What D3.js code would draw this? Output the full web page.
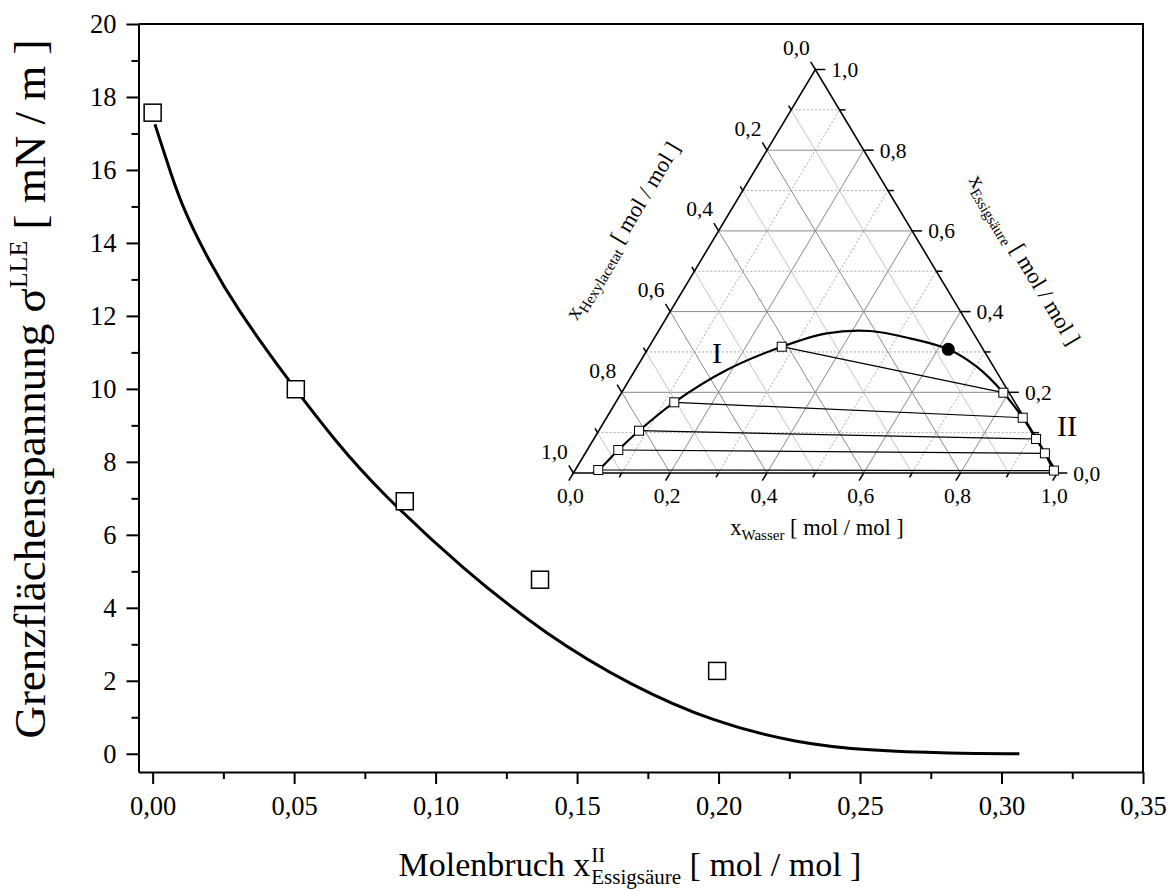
<!DOCTYPE html>
<html>
<head>
<meta charset="utf-8">
<script src="https://cdn.jsdelivr.net/npm/d3@7/dist/d3.min.js"></script>
<style>
    body { margin: 0; background: #fff; }
    svg text { font-family: "Liberation Serif", "Times New Roman", serif; fill: #000; }
</style>
</head>
<body>
<svg id="chart" width="1173" height="891"></svg>
<script>
// -----------------------------
// data
// -----------------------------

// measured interfacial tension vs. acetic acid fraction in phase II
const sigmaX = [0.0, 0.0506, 0.0891, 0.1369, 0.1995]
const sigmaY = [17.57, 9.99, 6.92, 4.77, 2.27]

// fitted curve
const fitX = [0.0008, 0.0040, 0.0097, 0.0203, 0.0297, 0.0474, 0.0651, 0.0804,
              0.1099, 0.1394, 0.1689, 0.1984, 0.2279, 0.2527, 0.2822, 0.3063]
const fitY = [17.25, 16.5, 15.09, 13.44, 12.21, 10.29, 8.51, 7.18,
              5.04, 3.24, 1.87, 0.86, 0.29, 0.085, 0.01, 0.0]

const xTicks = [0, 0.05, 0.10, 0.15, 0.20, 0.25, 0.30, 0.35]
const xMinor = [0.025, 0.075, 0.125, 0.175, 0.225, 0.275, 0.325]
const yTicks = [0, 2, 4, 6, 8, 10, 12, 14, 16, 18, 20]
const yMinor = [1, 3, 5, 7, 9, 11, 13, 15, 17, 19]

// ternary inset: compositions as [x_Wasser, x_Essigsäure]
const phaseI = [[0.0477, 0.0074], [0.0643, 0.057], [0.0832, 0.1048], [0.1209, 0.1752], [0.274, 0.313]]
const phaseII = [[0.990, 0.006], [0.950, 0.0488], [0.914, 0.0843], [0.860, 0.137], [0.789, 0.199]]
const binodal = [[0.040, 0.0], [0.0477, 0.0074], [0.0643, 0.057], [0.0832, 0.1048], [0.1209, 0.1752],
                 [0.1891, 0.2553], [0.274, 0.313], [0.3504, 0.3462], [0.437, 0.3519], [0.5287, 0.3338],
                 [0.6214, 0.3066], [0.7017, 0.2634], [0.789, 0.199], [0.860, 0.137], [0.914, 0.0843],
                 [0.950, 0.0488], [0.990, 0.006], [0.998, 0.0]]
const critPoint = [0.6214, 0.3066]
const ternTicks = [0, 0.1, 0.2, 0.3, 0.4, 0.5, 0.6, 0.7, 0.8, 0.9, 1.0]
const ternGrid = [0.1, 0.2, 0.3, 0.4, 0.5, 0.6, 0.7, 0.8, 0.9]
const ternLabels = [0, 0.2, 0.4, 0.6, 0.8, 1.0]

// -----------------------------
// helpers
// -----------------------------

const svg = d3.select('#chart')
const comma = (d, n) => d.toFixed(n).replace('.', ',')
const serif = '"Liberation Serif", "Times New Roman", serif'

// -----------------------------
// main plot
// -----------------------------

const frame = {left: 138.5, right: 1143, top: 24, bottom: 772}

const x = d3.scaleLinear()
    .domain([-0.005, 0.35])
    .range([frame.left, frame.right])

const y = d3.scaleLinear()
    .domain([-0.5, 20])
    .range([frame.bottom, frame.top])

function styleAxis(g, size) {
    g.attr('font-family', serif).attr('font-size', size)
    g.selectAll('path, line').attr('stroke', '#000').attr('stroke-width', 2)
}

svg.append('g')
    .attr('transform', 'translate(0,' + frame.bottom + ')')
    .call(d3.axisBottom(x).tickValues(xMinor).tickSize(7).tickFormat(''))
    .call(g => g.select('.domain').remove())
    .call(styleAxis, 26)

svg.append('g')
    .attr('transform', 'translate(' + frame.left + ',0)')
    .call(d3.axisLeft(y).tickValues(yMinor).tickSize(7).tickFormat(''))
    .call(g => g.select('.domain').remove())
    .call(styleAxis, 26)

svg.append('g')
    .attr('transform', 'translate(0,' + frame.bottom + ')')
    .call(d3.axisBottom(x).tickValues(xTicks).tickSize(12).tickSizeOuter(0)
        .tickPadding(12).tickFormat(d => comma(d, 2)))
    .call(styleAxis, 26.5)

svg.append('g')
    .attr('transform', 'translate(' + frame.left + ',0)')
    .call(d3.axisLeft(y).tickValues(yTicks).tickSize(12).tickSizeOuter(0)
        .tickPadding(10).tickFormat(d => d))
    .call(styleAxis, 26.5)

// top + right frame
svg.append('path')
    .attr('d', 'M' + frame.left + ',' + frame.top + 'H' + frame.right + 'V' + frame.bottom)
    .attr('fill', 'none')
    .attr('stroke', '#000')
    .attr('stroke-width', 2)

// fit curve
svg.append('path')
    .datum(fitX.map((d, i) => [d, fitY[i]]))
    .attr('d', d3.line().x(d => x(d[0])).y(d => y(d[1])).curve(d3.curveBasis))
    .attr('fill', 'none')
    .attr('stroke', '#000')
    .attr('stroke-width', 3)

// measured points
const sq = 17
svg.append('g')
    .selectAll('rect.point')
    .data(sigmaX.map((d, i) => [d, sigmaY[i]]))
    .enter()
    .append('rect')
    .attr('class', 'point')
    .attr('x', d => x(d[0]) - sq / 2)
    .attr('y', d => y(d[1]) - sq / 2)
    .attr('width', sq)
    .attr('height', sq)
    .attr('fill', '#fff')
    .attr('stroke', '#000')
    .attr('stroke-width', 1.5)

// y title
const yTitle = svg.append('text')
    .attr('transform', 'translate(45,389) rotate(-90)')
    .attr('text-anchor', 'middle')
    .attr('font-size', 45)
yTitle.append('tspan').text('Grenzflächenspannung σ')
yTitle.append('tspan').attr('font-size', 26).attr('dy', -18).text('LLE')
yTitle.append('tspan').attr('dy', 18).text(' [ mN / m ]')

// x title, with stacked super- and subscript
const xTitle = svg.append('g')
const xt1 = xTitle.append('text').attr('font-size', 34).attr('y', 876).text('Molenbruch x')
const w1 = xt1.node().getComputedTextLength()
xTitle.append('text').attr('font-size', 21).attr('x', w1 + 1).attr('y', 862).text('II')
const xt2 = xTitle.append('text').attr('font-size', 21).attr('x', w1 + 1).attr('y', 884).text('Essigsäure')
const w2 = xt2.node().getComputedTextLength()
const xt3 = xTitle.append('text').attr('font-size', 34).attr('x', w1 + 1 + w2).attr('y', 876)
    .text('\u00a0[ mol / mol ]')
const wTot = w1 + 1 + w2 + xt3.node().getComputedTextLength()
xTitle.attr('transform', 'translate(' + (630 - wTot / 2) + ',0)')

// -----------------------------
// ternary inset
// -----------------------------

const tw = d3.scaleLinear().domain([0, 1]).range([573.4, 1057.3])
const te = d3.scaleLinear().domain([0, 1]).range([473, 69.5])
const tp = (w, e) => [tw(w + e / 2), te(e)]

const inset = svg.append('g').attr('font-family', serif)

const edgeAngle = Math.atan2(te(0) - te(1), tw(0.5) - tw(0)) * 180 / Math.PI
const rad = edgeAngle * Math.PI / 180
const dirDown = [-Math.cos(rad), Math.sin(rad)]   // tick direction, bottom axis
const dirUp = [-Math.cos(rad), -Math.sin(rad)]    // tick direction, left axis

function seg(g, a, b) {
    return g.append('line')
        .attr('x1', a[0]).attr('y1', a[1])
        .attr('x2', b[0]).attr('y2', b[1])
}

// grid
const grid = inset.append('g')
ternGrid.forEach(v => {
    const major = Math.round(v * 10) % 2 === 0
    const solid = major ? '#8a8a8a' : '#c4c4c4'
    // constant Essigsäure (horizontal)
    const le = seg(grid, tp(0, v), tp(1 - v, v)).attr('stroke', major ? solid : '#a8a8a8')
    if (!major) le.attr('stroke-dasharray', '2,2')
    // constant Wasser
    const lw = seg(grid, tp(v, 0), tp(v, 1 - v)).attr('stroke', major ? solid : '#a8a8a8')
    if (!major) lw.attr('stroke-dasharray', '2,2')
    // constant Hexylacetat
    seg(grid, tp(1 - v, 0), tp(0, 1 - v)).attr('stroke', solid)
})
grid.selectAll('line').attr('stroke-width', 1)

// tie lines
inset.append('g')
    .selectAll('line.tie')
    .data(phaseI.map((d, i) => [tp(d[0], d[1]), tp(phaseII[i][0], phaseII[i][1])]))
    .enter()
    .append('line')
    .attr('class', 'tie')
    .attr('x1', d => d[0][0]).attr('y1', d => d[0][1])
    .attr('x2', d => d[1][0]).attr('y2', d => d[1][1])
    .attr('stroke', '#000')
    .attr('stroke-width', 1.2)

// triangle
inset.append('path')
    .attr('d', 'M' + tp(0, 0) + 'L' + tp(1, 0) + 'L' + tp(0, 1) + 'Z')
    .attr('fill', 'none')
    .attr('stroke', '#000')
    .attr('stroke-width', 1.6)

// ticks
const ticks = inset.append('g').attr('stroke', '#000').attr('stroke-width', 1.5)
ternTicks.forEach(v => {
    const len = Math.round(v * 10) % 2 === 0 ? 9 : 5
    const pb = tp(v, 0)
    seg(ticks, pb, [pb[0] + dirDown[0] * len, pb[1] + dirDown[1] * len])
    const pr = tp(1 - v, v)
    seg(ticks, pr, [pr[0] + len + 1, pr[1]])
    const pl = tp(0, 1 - v)
    seg(ticks, pl, [pl[0] + dirUp[0] * len, pl[1] + dirUp[1] * len])
})

// tick labels
const lab = inset.append('g').attr('font-size', 21.5)
ternLabels.forEach(v => {
    const pb = tp(v, 0)
    lab.append('text').attr('x', pb[0] - 3).attr('y', pb[1] + 22)
        .attr('dy', '0.35em').attr('text-anchor', 'middle').text(comma(v, 1))
    const pr = tp(1 - v, v)
    lab.append('text').attr('x', pr[0] + 16).attr('y', pr[1])
        .attr('dy', '0.35em').attr('text-anchor', 'start').text(comma(v, 1))
    const pl = tp(0, 1 - v)
    lab.append('text').attr('x', pl[0] - 19).attr('y', pl[1] - 22)
        .attr('dy', '0.35em').attr('text-anchor', 'middle').text(comma(v, 1))
})

// binodal curve
inset.append('path')
    .datum(binodal.map(d => tp(d[0], d[1])))
    .attr('d', d3.line().curve(d3.curveCatmullRom.alpha(0.5)))
    .attr('fill', 'none')
    .attr('stroke', '#000')
    .attr('stroke-width', 2.2)

// tie line end points
const ts = 9
inset.append('g')
    .selectAll('rect.tern')
    .data(phaseI.concat(phaseII).map(d => tp(d[0], d[1])))
    .enter()
    .append('rect')
    .attr('class', 'tern')
    .attr('x', d => d[0] - ts / 2)
    .attr('y', d => d[1] - ts / 2)
    .attr('width', ts)
    .attr('height', ts)
    .attr('fill', '#fff')
    .attr('stroke', '#000')
    .attr('stroke-width', 1)

// critical point
inset.append('circle')
    .attr('cx', tp(critPoint[0], critPoint[1])[0])
    .attr('cy', tp(critPoint[0], critPoint[1])[1])
    .attr('r', 6.5)
    .attr('fill', '#000')

// phase labels
inset.append('text').attr('x', 717).attr('y', 352).attr('dy', '0.35em')
    .attr('text-anchor', 'middle').attr('font-size', 30).text('I')
inset.append('text').attr('x', 1067).attr('y', 425).attr('dy', '0.35em')
    .attr('text-anchor', 'middle').attr('font-size', 30).text('II')

// axis titles
function ternTitle(tx, ty, angle, sub) {
    const t = inset.append('text')
        .attr('transform', 'translate(' + tx + ',' + ty + ') rotate(' + angle + ')')
        .attr('text-anchor', 'middle')
        .attr('dy', '0.3em')
        .attr('font-size', 22.5)
    t.append('tspan').text('x')
    t.append('tspan').attr('font-size', 15).attr('dy', 5).text(sub)
    t.append('tspan').attr('dy', -5).text(' [ mol / mol ]')
}
ternTitle(817, 528, 0, 'Wasser')
ternTitle(623, 231, -edgeAngle, 'Hexylacetat')
ternTitle(1024, 260, edgeAngle, 'Essigsäure')
</script>
</body>
</html>
